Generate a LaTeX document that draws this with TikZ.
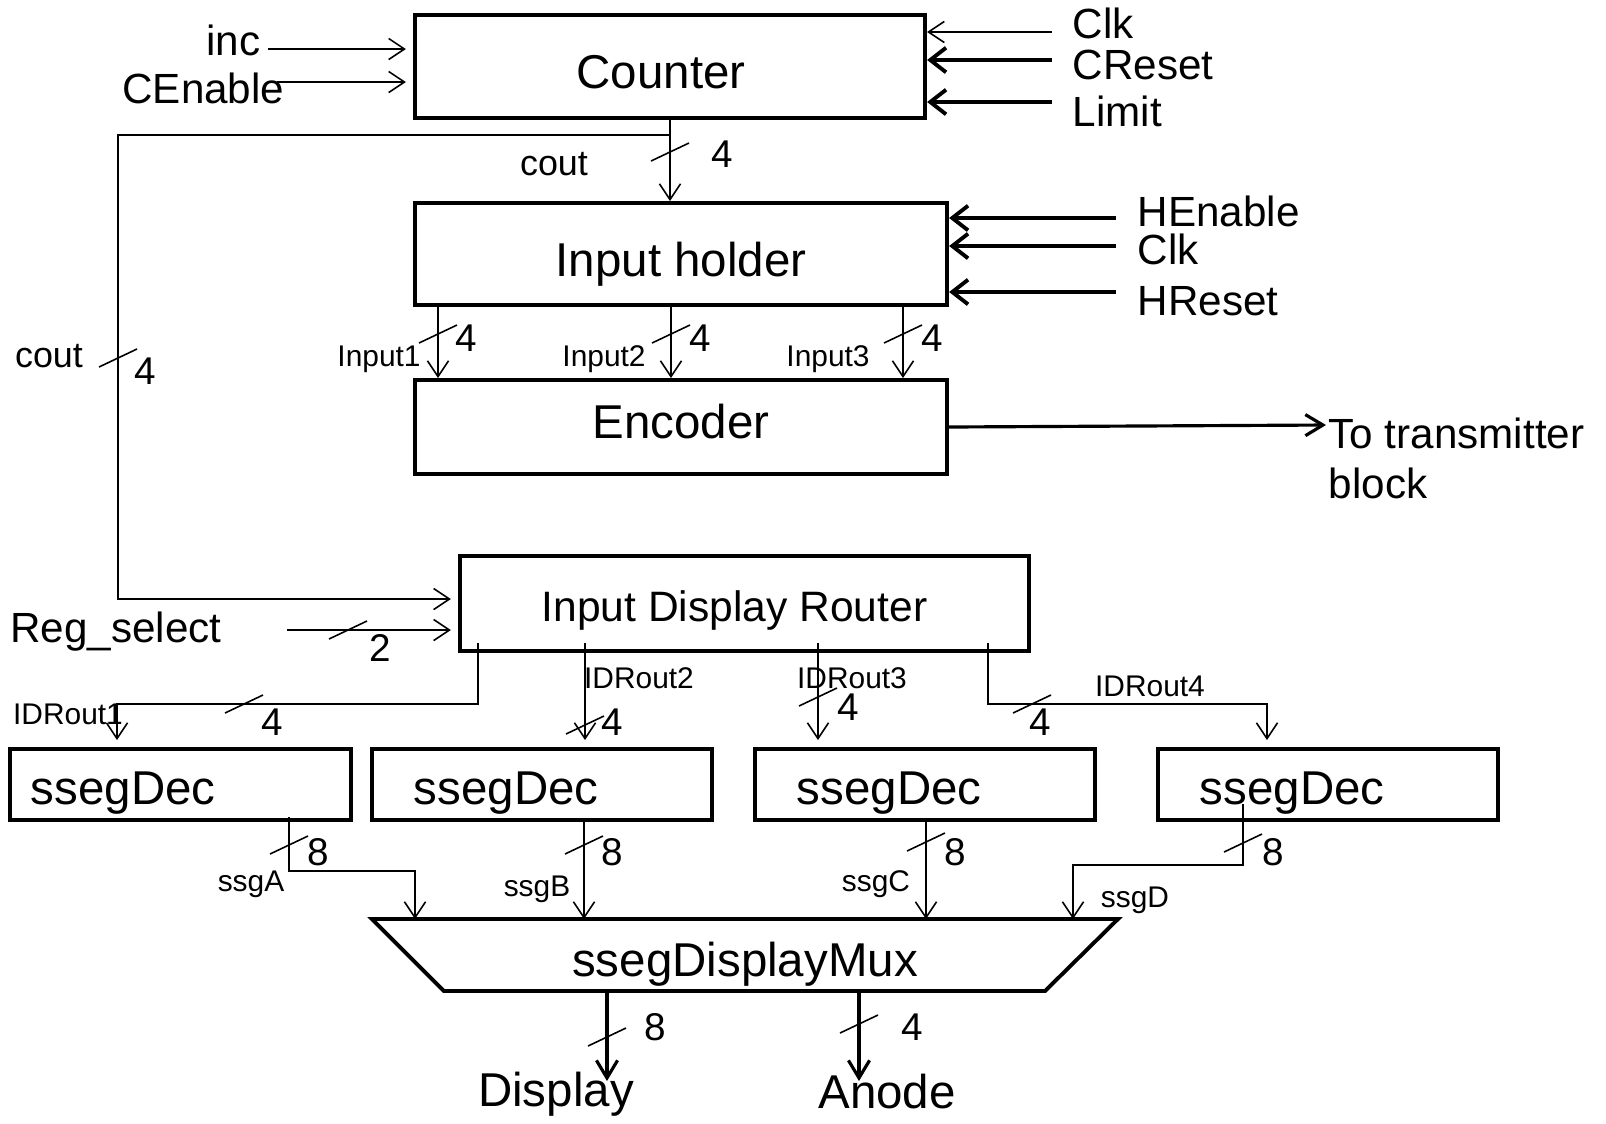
\documentclass[tikz,border=0pt]{standalone}
\usepackage{fontspec}
\setmainfont{Liberation Sans}
\usetikzlibrary{positioning, arrows.meta, calc}
\tikzset{
    blk/.style={draw, line width=1.1pt, inner sep=0pt, text depth=0pt, font=\fontsize{13.5}{16}\selectfont},
    decblk/.style={blk, minimum height=0.71cm, align=left, inner ysep=0pt, text height=11.1pt},
    wire/.style={line width=0.45pt},
    sig/.style={wire, -{Straight Barb[length=4.5pt, width=6pt]}},
    heavysig/.style={line width=1.1pt, -{Straight Barb[length=4.5pt, width=7pt]}},
    outsig/.style={line width=0.9pt, -{Straight Barb[length=5pt, width=6pt]}},
    biglbl/.style={inner sep=0pt, font=\fontsize{13.5}{16}\selectfont},
    lbl/.style={inner sep=0pt, font=\fontsize{12}{14.2}\selectfont},
    midlbl/.style={inner sep=0pt, font=\fontsize{10.2}{12}\selectfont},
    smlbl/.style={inner sep=0pt, font=\fontsize{8.5}{10}\selectfont},
    num/.style={inner sep=0pt, font=\fontsize{11}{13}\selectfont}
}
\newcommand{\busmark}[1]{\draw[wire] (#1) ++(-19,9) -- ++(38,-18);}

\begin{document}
\begin{tikzpicture}[x=0.01cm, y=-0.01cm]
\useasboundingbox (0,0) rectangle (1606,1123);

% blocks
\node[blk, minimum width=5.10cm, minimum height=1.03cm, text height=12.5pt] (counter) at (670,66.5) {Counter\kern0.18cm};
\node[blk, minimum width=5.32cm, minimum height=1.02cm, text height=12.9pt] (holder) at (681,254) {Input holder};
\node[blk, minimum width=5.32cm, minimum height=0.94cm, text height=6.8pt] (enc) at (681,427) {Encoder};
\node[blk, minimum width=5.69cm, minimum height=0.95cm, text height=10.3pt, font=\fontsize{12.1}{14.2}\selectfont] (idr) at (744.5,603.5) {Input Display Router\kern0.2cm};
\node[decblk, inner xsep=0.21cm, text width=2.99cm] (dec1) at (180.5,784.5) {ssegDec};
\node[decblk, inner xsep=0.42cm, text width=2.56cm] (dec2) at (542,784.5) {ssegDec};
\node[decblk, inner xsep=0.42cm, text width=2.56cm] (dec3) at (925,784.5) {ssegDec};
\node[decblk, inner xsep=0.42cm, text width=2.56cm] (dec4) at (1328,784.5) {ssegDec};

\coordinate (mux-tl) at (372,919);
\coordinate (mux-tr) at (1118,919);
\coordinate (mux-br) at (1045,991);
\coordinate (mux-bl) at (444,991);
\draw[line width=1.1pt, line join=miter] (mux-tl) -- (mux-tr) -- (mux-br) -- (mux-bl) -- cycle;
\node[biglbl] (mux) at (745,964) {ssegDisplayMux};

% counter
\node[lbl, anchor=east] (inc) at (261,40) {inc};
\node[lbl, anchor=east] (cen) at (285,88) {CEnable};
\coordinate (incS) at (268,49);
\coordinate (cenS) at (277,82);
\draw[sig, shorten >=2pt] (incS) -- (incS -| counter.west);
\draw[sig, shorten >=2pt] (cenS) -- (cenS -| counter.west);

\node[lbl, anchor=west] (clk1) at (1072,23) {Clk};
\node[lbl, anchor=west] (crst) at (1072,65) {CReset};
\node[lbl, anchor=west] (lim) at (1072,111) {Limit};
\coordinate (clk1S) at (1052,32);
\coordinate (crstS) at (1052,60);
\coordinate (limS) at (1052,102);
\draw[sig] (clk1S) -- (clk1S -| counter.east);
\draw[heavysig] (crstS) -- (crstS -| counter.east);
\draw[heavysig] (limS) -- (limS -| counter.east);

% cout
\coordinate (cj) at ($(counter.south)+(0,15)$);
\coordinate (cl) at (118,599);
\draw[sig] (counter.south) -- (counter.south |- holder.north);
\draw[sig, shorten >=2pt] (cj) -| (cl) -- (cl -| idr.west);
\busmark{670,152}
\node[num] (cnum1) at (722,154) {4};
\node[midlbl] (cout1) at (554,164) {cout};
\busmark{118,358}
\node[num] (cnum2) at (145,371) {4};
\node[midlbl] (cout2) at (49,356) {cout};

% input holder
\node[lbl, anchor=west] (hen) at (1137,211) {HEnable};
\node[lbl, anchor=west] (clk2) at (1137,249) {Clk};
\node[lbl, anchor=west] (hrst) at (1137,301) {HReset};
\coordinate (henS) at (1116,218);
\coordinate (clk2S) at (1116,246);
\coordinate (hrstS) at (1116,292);
\draw[heavysig] (henS) -- (henS -| holder.east);
\draw[heavysig] (clk2S) -- (clk2S -| holder.east);
\draw[heavysig] (hrstS) -- (hrstS -| holder.east);

\coordinate (in1) at (438,305);
\coordinate (in2) at (671,305);
\coordinate (in3) at (903,305);
\draw[sig] (in1) -- (in1 |- enc.north);
\draw[sig] (in2) -- (in2 |- enc.north);
\draw[sig] (in3) -- (in3 |- enc.north);
\busmark{438,334}
\busmark{671,334}
\busmark{903,334}
\node[num] (inum1) at (466,338) {4};
\node[num] (inum2) at (700,338) {4};
\node[num] (inum3) at (932,338) {4};
\node[smlbl] (inl1) at (379,359) {Input1};
\node[smlbl] (inl2) at (604,359) {Input2};
\node[smlbl] (inl3) at (828,359) {Input3};

% encoder out
\coordinate (tx) at (1326,425);
\draw[outsig] (enc.east) -- (tx);
\node[lbl, anchor=west, align=left] (txl) at (1328,458) {To transmitter\\block};

% router
\node[lbl] (regs) at (116,632) {Reg\_select};
\coordinate (regS) at (287,630);
\draw[sig, shorten >=2pt] (regS) -- (regS -| idr.west);
\busmark{348,630}
\node[num] (rnum) at (380,648) {2};

\coordinate (r1) at (478,643);
\coordinate (r2) at (585,643);
\coordinate (r3) at (818,643);
\coordinate (r4) at (988,643);
\coordinate (o1) at (117,704);
\coordinate (o4) at (1267,704);
\draw[sig, shorten >=2pt] (r1) |- (o1) -- (o1 |- dec1.north);
\draw[sig, shorten >=2pt] (r2) -- (r2 |- dec2.north);
\draw[sig, shorten >=2pt] (r3) -- (r3 |- dec3.north);
\draw[sig, shorten >=2pt] (r4) |- (o4) -- (o4 |- dec4.north);
\busmark{244,704}
\busmark{585,725}
\busmark{818,697}
\busmark{1032,704}
\node[num] (onum1) at (272,722) {4};
\node[num] (onum2) at (612,722) {4};
\node[num] (onum3) at (848,707) {4};
\node[num] (onum4) at (1040,722) {4};
\node[smlbl] (idr1) at (68,714) {IDRout1};
\node[smlbl] (idr2) at (639,678) {IDRout2};
\node[smlbl] (idr3) at (852,678) {IDRout3};
\node[smlbl] (idr4) at (1150,686) {IDRout4};

% decoders to mux
\coordinate (a1) at (289,817);
\coordinate (b1) at (584,820);
\coordinate (c1) at (926,820);
\coordinate (d1) at (1243,804);
\coordinate (m1) at (415,871);
\coordinate (m4) at (1073,865);
\draw[sig] (a1) |- (m1) -- (m1 |- mux-tl);
\draw[sig] (b1) -- (b1 |- mux-tl);
\draw[sig] (c1) -- (c1 |- mux-tl);
\draw[sig] (d1) |- (m4) -- (m4 |- mux-tl);
\busmark{289,845}
\busmark{584,845}
\busmark{926,842}
\busmark{1243,843}
\node[num] (snum1) at (318,852) {8};
\node[num] (snum2) at (612,852) {8};
\node[num] (snum3) at (955,852) {8};
\node[num] (snum4) at (1273,852) {8};
\node[smlbl] (ssga) at (251,884) {ssgA};
\node[smlbl] (ssgb) at (537,889) {ssgB};
\node[smlbl] (ssgc) at (876,884) {ssgC};
\node[smlbl] (ssgd) at (1135,900) {ssgD};

% outputs
\coordinate (dspS) at (607,991);
\coordinate (anoS) at (859,991);
\node[biglbl] (dsp) at (556,1094) {Display};
\node[biglbl] (ano) at (887,1092) {Anode};
\draw[outsig] (dspS) -- (607,1081);
\draw[outsig] (anoS) -- (859,1081);
\busmark{607,1037}
\busmark{859,1024}
\node[num] (dnum) at (655,1027) {8};
\node[num] (anum) at (912,1027) {4};
\end{tikzpicture}
\end{document}
